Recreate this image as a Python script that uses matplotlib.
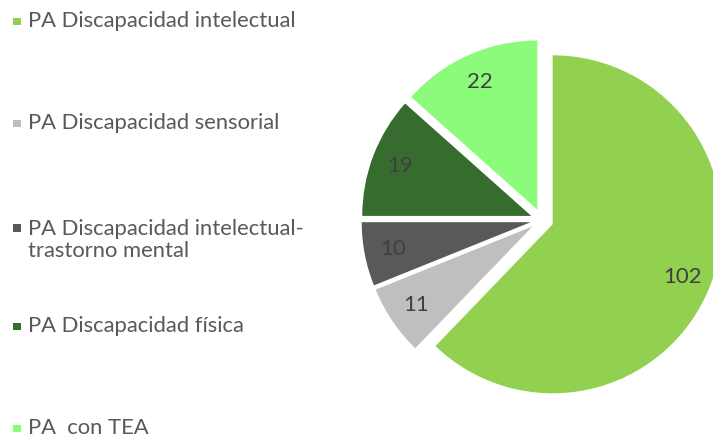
import matplotlib
matplotlib.use("Agg")
import matplotlib.pyplot as plt
from matplotlib.patches import Rectangle

plt.rcParams['font.family'] = ['Lato', 'DejaVu Sans']

categories = ["PA Discapacidad intelectual", "PA Discapacidad sensorial",
              "PA Discapacidad intelectual-\ntrastorno mental", "PA Discapacidad física",
              "PA  con TEA"]
values = [102, 11, 10, 19, 22]
colors = ["#92D050", "#BFBFBF", "#595959", "#376C2F", "#8CFA7A"]

W, H = 713, 438
fig = plt.figure(figsize=(W / 100, H / 100), dpi=100)

# pie axes placed in pixel space
cx, cy, r = 542, 218, 169
half = 1.5 * r
ax = fig.add_axes([(cx - half) / W, (cy - half) / H, 2 * half / W, 2 * half / H])
wedges, texts = ax.pie(values, colors=colors, startangle=90, counterclock=False,
                       explode=[0.068] * len(values), labels=[str(v) for v in values],
                       labeldistance=0.83,
                       textprops=dict(fontsize=16, color="#404040"))
for t in texts:
    t.set_ha("center")
    t.set_va("center")
ax.set_xlim(-1.5, 1.5)
ax.set_ylim(-1.5, 1.5)
ax.axis("off")

# legend drawn manually (left side)
legend_y = [21, 123, 240, 326, 428]  # pixel centers from top
for cat, col, y in zip(categories, colors, legend_y):
    nlines = cat.count("\n") + 1
    y_first = y - (nlines - 1) * 12.5
    fig.patches.append(Rectangle((13 / W, 1 - (y_first + 4) / H), 7.5 / W, 7.5 / H,
                                 transform=fig.transFigure, facecolor=col,
                                 edgecolor="none"))
    fig.text(28 / W, 1 - y / H, cat, ha="left", va="center", fontsize=15.8,
             color="#595959", linespacing=1.1)

fig.savefig("out.png", dpi=100)
